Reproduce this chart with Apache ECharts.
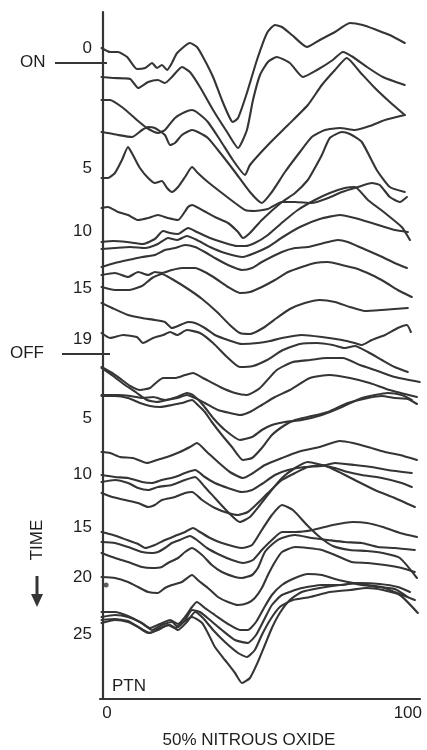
<!DOCTYPE html>
<html><head><meta charset="utf-8">
<script src="https://cdn.jsdelivr.net/npm/echarts@6/dist/echarts.min.js"></script>
<style>html,body{margin:0;padding:0;background:#fff}#c{width:427px;height:750px}</style>
</head><body><div id="c"></div>
<script>
// ---- data: each trace is [x (0..100 scale), vertical position (depth from top)] ----
const trace01=[[-0.5,48],[2.3,52],[4.9,52],[7.9,57],[11.1,69],[13.8,68],[16.1,63],[17.7,68],[19.3,65],[21,70],[22.6,63],[24.3,53],[28.5,43],[30.8,47],[32.8,57],[36.1,77],[39,100],[41.6,118],[42.6,122],[44.3,118],[47.2,93],[50.5,60],[53.8,33],[56.4,25],[58.7,27],[62,35],[66.9,47],[71.1,40],[76.1,32],[81,23],[85.2,25],[89.8,30],[94.1,35],[99,43]];
const trace02=[[-0.5,77],[3.3,78],[8.9,79],[11.5,88],[14.8,82],[18,80],[20.3,83],[22.6,77],[25.9,67],[28.5,72],[31.8,87],[36.1,110],[40.7,132],[44.3,148],[47.2,130],[49.2,100],[51.5,75],[54.1,62],[57,57],[61.3,63],[65.6,77],[70.2,70],[75.4,60],[78.7,52],[82,57],[86.6,67],[91.8,77],[99,85]];
const trace03=[[-0.5,100],[2.3,100],[6.6,108],[11.1,120],[14.4,128],[18,133],[20.3,130],[23.6,118],[26.9,112],[29.2,110],[31.1,113],[34.4,122],[38.4,140],[42.6,160],[46.6,175],[48.2,165],[54.1,145],[60.7,125],[67.2,105],[71.8,85],[76.1,70],[80,58],[84.3,72],[89.2,88],[94.1,102],[99,115]];
const trace04=[[-0.5,132],[1.6,133],[4.9,135],[9.5,137],[12.8,130],[14.8,127],[17,128],[20.3,135],[22,145],[23.6,143],[25.9,135],[29.2,130],[31.1,132],[34.4,138],[39,155],[43.3,172],[48.2,192],[52.1,203],[55.4,192],[59.7,172],[64.6,152],[68.5,137],[72.8,130],[77.7,128],[82.6,130],[87.5,126],[92.5,120],[99,115]];
const trace05=[[-0.5,178],[1.6,178],[3.9,173],[6.2,160],[8.2,147],[9.8,155],[12.1,168],[14.8,178],[17,183],[19.3,181],[21,188],[22.6,192],[24.6,187],[26.9,177],[29.2,167],[31.1,173],[34.4,182],[39,193],[43.3,203],[46.6,210],[49.8,211],[54.1,209],[58.7,202],[63,202],[68.5,203],[73.8,198],[78.4,192],[83.6,187],[88.2,183],[90.8,185],[94.1,197],[97.4,202],[99.7,197]];
const trace06=[[-0.5,208],[1.6,207],[4.9,212],[8.2,215],[11.5,220],[14.8,218],[18,215],[21.3,218],[24.6,220],[27.9,207],[29.2,205],[32.5,210],[36.7,217],[41,223],[44.3,232],[45.9,238],[48.2,233],[52.1,220],[58.7,202],[63,193],[67.2,180],[69.5,168],[71.8,155],[74.4,138],[78.4,132],[81,134],[84.9,142],[89.8,170],[94.1,187],[99,192]];
const trace07=[[-0.5,242],[3.3,241],[7.9,242],[13.1,244],[17,239],[19.7,231],[22,233],[24.6,234],[27.9,228],[30.8,232],[35.1,238],[40,243],[43.9,246],[46.6,246],[49.8,243],[54.1,235],[59,222],[63.9,210],[69.5,200],[74.4,193],[79.3,188],[82.6,187],[86.9,200],[92.5,213],[98,227],[100.7,240]];
const trace08=[[-0.5,249],[3.9,248],[8.9,247],[13.8,248],[18,244],[21.3,238],[24.3,240],[27.5,236],[30.8,240],[35.1,247],[40,253],[45.9,257],[49.8,253],[54.1,247],[59,237],[64.6,227],[71.1,219],[77.7,215],[82.6,218],[89.2,224],[95.7,230],[100,232]];
const trace09=[[-0.5,267],[3.9,263],[8.2,260],[12.8,257],[17,255],[20.3,250],[23.6,248],[26.9,245],[30.2,247],[33.4,252],[36.7,258],[41,265],[45.6,270],[48.9,268],[52.1,262],[58.7,252],[63,248],[67.2,247],[73.8,242],[77,240],[80.3,242],[84.9,248],[90.2,255],[95.7,263],[99.7,268]];
const trace10=[[-0.5,275],[3.9,273],[8.2,277],[11.5,272],[14.8,275],[17,272],[19.3,273],[22.6,270],[25.9,268],[30.2,268],[33.4,272],[36.7,278],[41,287],[44.9,293],[48.2,292],[52.1,287],[56.4,280],[60.7,272],[65.2,267],[69.5,263],[73.8,262],[78.4,265],[82.6,268],[88.2,275],[92.5,282],[96.7,290],[101.3,297]];
const trace11=[[-0.5,287],[3.9,290],[8.2,290],[12.8,286],[16.1,278],[19.3,274],[22.6,279],[27.9,289],[32.5,299],[37.4,312],[41.6,325],[44.9,333],[48.2,334],[52.5,328],[57,318],[61.3,309],[66.2,303],[71.1,300],[76.1,302],[81,307],[85.9,311],[91.5,310],[100,308]];
const trace12=[[-0.5,303],[3,308],[8.2,315],[12.8,318],[17,320],[20.3,322],[22.6,328],[24.6,326],[27.9,322],[30.2,323],[33.4,328],[36.7,335],[41,340],[45.6,344],[50.8,343],[54.8,341],[58.7,338],[65.2,335],[71.8,337],[78.4,340],[82.6,343],[84.9,345],[88.2,340],[92.5,335],[96.7,328],[99.7,325],[101,332]];
const trace13=[[-0.5,333],[2.3,338],[6.6,335],[11.1,337],[13.1,343],[16.4,338],[19.7,335],[22,332],[24.3,335],[27.5,330],[31.8,333],[36.1,343],[40.7,357],[44.9,367],[49.2,366],[53.8,360],[59,350],[64.6,344],[70.2,343],[75.4,345],[79.3,348],[82.6,346],[86.9,352],[91.5,360],[95.7,367],[100,372]];
const trace14=[[-0.5,367],[3,373],[6.2,380],[8.9,386],[12.1,390],[15.4,388],[17.7,382],[19.7,378],[23.6,378],[26.9,375],[29.5,373],[32.8,378],[38.4,387],[43.3,393],[47.2,395],[51.5,388],[57,370],[62.3,362],[67.9,360],[73.4,358],[78.7,358],[84.3,365],[89.2,370],[95.7,377],[103.9,382]];
const trace15=[[-0.5,368],[3.3,376],[7.2,385],[11.1,393],[14.4,400],[17.7,402],[21,400],[24.3,398],[27.5,395],[30.2,398],[33.4,403],[37.7,410],[41.6,413],[44.9,415],[48.2,412],[52.1,405],[56.4,397],[61.3,390],[67.9,378],[74.4,375],[81,378],[87.5,383],[94.1,390],[103,397]];
const trace16=[[-0.5,395],[4.9,395],[8.9,396],[13.1,398],[16.4,397],[20.3,400],[24.3,397],[27.5,393],[29.5,395],[32.8,405],[36.1,418],[40,430],[44.9,440],[48.9,437],[52.1,430],[55.4,425],[59.7,422],[65.2,420],[71.8,415],[78.4,407],[84.9,398],[89.2,395],[93.4,393],[98,395],[101.3,400]];
const trace17=[[-0.5,396],[3.9,396],[8.2,398],[12.1,403],[15.4,406],[18.7,407],[22.6,405],[25.9,403],[29.2,400],[31.1,405],[33.4,412],[35.7,422],[39,435],[42.3,447],[45.9,460],[48.9,458],[52.1,448],[55.4,435],[59.7,425],[63,420],[67.2,417],[73.8,412],[80.3,403],[86.9,398],[91.5,396],[95.7,398],[100,399],[103,404]];
const trace18=[[-0.5,452],[2.3,453],[5.6,457],[9.8,458],[14.4,463],[17.7,460],[21,457],[25.2,452],[28.5,447],[30.8,443],[34.1,452],[37.7,462],[41.6,472],[45.9,478],[49.2,473],[53.1,465],[58.7,458],[63.9,452],[71.1,447],[77.7,441],[82,443],[86.9,447],[92.5,452],[97.4,455],[103,460]];
const trace19=[[-0.5,475],[3.9,477],[8.2,478],[12.8,482],[16.1,483],[19.3,480],[23.6,477],[26.9,473],[30.2,470],[33.4,477],[36.7,483],[41,488],[45.6,492],[48.9,490],[52.1,484],[56.4,475],[60.7,470],[66.2,467],[71.8,466],[76.1,463],[82.6,465],[88.2,467],[93.4,470],[101.3,473]];
const trace20=[[-0.5,482],[3.9,480],[8.2,483],[11.5,488],[14.8,490],[18,487],[22.6,485],[26.9,480],[30.2,477],[33.4,487],[36.7,498],[41,512],[44.9,522],[48.2,517],[51.5,505],[54.8,492],[58.7,478],[63,468],[67.2,462],[71.8,465],[76.1,468],[80.3,472],[84.9,475],[91.5,478],[98,483],[101.3,487]];
const trace21=[[-0.5,493],[3,497],[7.2,500],[11.5,503],[14.8,507],[17,505],[19.3,500],[23.6,497],[26.9,493],[29.2,492],[32.5,500],[36.7,508],[41,513],[44.3,515],[47.5,512],[50.8,503],[54.1,493],[58.7,480],[63,473],[67.2,467],[71.8,465],[76.1,470],[82.6,480],[89.2,490],[95.7,498],[102.3,507]];
const trace22=[[-0.5,532],[3.3,535],[7.9,540],[11.5,544],[13.8,548],[17,545],[20.3,540],[23.6,536],[26.9,532],[29.5,528],[31.8,532],[35.1,538],[39,543],[45.6,548],[48.9,545],[52.1,530],[55.4,515],[58.7,505],[62.3,510],[66.9,525],[71.1,537],[75.4,546],[81,550],[86.6,551],[91.8,553],[97.4,558],[103,578]];
const trace23=[[-0.5,542],[3.9,543],[8.2,547],[12.8,552],[16.1,553],[18,552],[20.3,548],[22.6,543],[25.2,540],[28.5,536],[30.8,540],[34.1,548],[38.4,555],[42.3,560],[45.9,563],[49.2,560],[52.1,550],[55.4,540],[58.7,532],[63,532],[68.9,530],[75.4,525],[82,522],[86.6,523],[91.8,527],[97.4,533],[103,537]];
const trace24=[[-0.5,553],[3,557],[8.2,562],[12.8,567],[16.1,568],[19.3,567],[21.3,563],[24.6,558],[26.9,552],[29.2,548],[32.5,555],[35.7,565],[39,572],[43.3,577],[45.6,578],[48.9,575],[50.8,568],[53.1,552],[56.4,542],[58.7,538],[63,535],[68.5,538],[73.8,540],[79.3,542],[84.9,543],[90.2,547],[95.7,548],[102.3,550]];
const trace25=[[-0.5,577],[3.9,578],[8.2,582],[11.5,587],[14.8,592],[18,593],[20.3,588],[22.6,585],[25.9,582],[29.2,575],[31.1,580],[34.4,588],[37.7,597],[41,602],[44.3,605],[47.5,603],[49.8,598],[52.1,588],[54.1,575],[56.4,562],[58.7,552],[63,547],[67.2,548],[71.8,550],[76.1,555],[81.6,562],[86.9,563],[92.5,565],[98,568],[102.3,572]];
const trace26=[[-0.5,612],[3.9,612],[8.2,616],[12.1,622],[15.4,628],[18.7,624],[22,620],[24.6,624],[26.9,617],[29.2,607],[30.8,602],[33.4,608],[36.7,615],[41,624],[44.9,630],[47.5,630],[50.2,622],[52.8,608],[55.4,595],[58.7,585],[63,578],[67.2,574],[71.8,575],[76.1,579],[80.3,582],[84.9,585],[90.2,587],[95.7,589],[100,597]];
const trace27=[[-0.5,617],[3.9,615],[8.2,617],[12.8,623],[16.1,630],[19.3,625],[22.6,622],[24.6,627],[26.9,620],[29.2,610],[31.8,612],[35.1,620],[39,630],[43.3,640],[47.5,643],[50.2,635],[52.8,620],[55.4,605],[58.7,595],[65.2,588],[71.8,585],[78.4,585],[82.6,583],[86.9,585],[91.5,587],[95.7,592],[102.3,600]];
const trace28=[[-0.5,620],[3.9,619],[8.2,621],[12.1,628],[15.4,633],[18.7,628],[22,625],[24.6,630],[27.5,622],[30.2,612],[32.8,618],[36.1,630],[40,642],[44.3,653],[47.2,657],[49.8,650],[52.1,635],[54.8,620],[58,607],[62.3,600],[67.9,597],[74.4,592],[81,590],[86.6,588],[91.8,590],[97.4,595],[103.3,613]];
const trace29=[[-0.5,623],[3.9,620],[8.2,622],[11.5,627],[14.8,633],[18,630],[21.3,625],[23.6,628],[25.9,623],[29.2,617],[32.5,623],[34.4,633],[36.7,647],[40,660],[43.3,673],[45.6,683],[48.2,678],[50.8,662],[53.1,645],[55.4,628],[58,613],[61.3,600],[65.2,592],[71.1,588],[77.7,585],[84.3,583],[90.8,584],[96.7,587],[100.7,592]];
const dotMark=[[1.0,585]];

const timeLabels=['0','5','10','15','19','5','10','15','20','25'];
const timeLabelPos=[48,168,231,288,339,418,474,527,577,634];
const xTickValues=[0,100];

const traces=[trace01,trace02,trace03,trace04,trace05,trace06,trace07,trace08,trace09,trace10,trace11,trace12,trace13,trace14,trace15,trace16,trace17,trace18,trace19,trace20,trace21,trace22,trace23,trace24,trace25,trace26,trace27,trace28,trace29];

const INK='#353535';
const TXT='#1e1e1e';
const FONT='"Liberation Sans", Arial, sans-serif';

const chart=echarts.init(document.getElementById('c'),null,{renderer:'canvas'});
const series=traces.map((d,i)=>({
  type:'line',name:'t'+(i+1),data:d,showSymbol:false,smooth:0.18,
  lineStyle:{color:INK,width:2.1,join:'round',cap:'round'},
  emphasis:{disabled:true},silent:true,z:2
}));
series.push({type:'scatter',data:dotMark,symbolSize:5,itemStyle:{color:INK},silent:true});

chart.setOption({
  animation:false,
  backgroundColor:'#fff',
  grid:{left:100,top:12,width:320,height:687},
  xAxis:{type:'value',min:-1,max:104,
    axisLine:{show:true,lineStyle:{color:INK,width:2.2}},
    axisTick:{show:false},splitLine:{show:false},
    axisLabel:{customValues:xTickValues,margin:6,fontSize:17,color:TXT,fontFamily:FONT,
      formatter:v=>v===0?'{z|0}':String(v),
      rich:{z:{padding:[0,0,0,8],fontSize:17,color:TXT,fontFamily:FONT}}}
  },
  yAxis:{type:'value',inverse:true,min:12,max:699,
    axisLine:{show:true,lineStyle:{color:INK,width:2.2}},
    axisTick:{show:false},splitLine:{show:false},
    axisLabel:{customValues:timeLabelPos,margin:8,fontSize:17,color:TXT,fontFamily:FONT,
      formatter:v=>{const i=timeLabelPos.indexOf(v);return i>=0?timeLabels[i]:'';}}
  },
  series:series,
  graphic:[
    {type:'text',left:20,top:54,style:{text:'ON',fontSize:17,fill:TXT,fontFamily:FONT}},
    {type:'line',shape:{x1:55,y1:63,x2:107,y2:63},style:{stroke:INK,lineWidth:2}},
    {type:'text',left:10,top:345,style:{text:'OFF',fontSize:17,fill:TXT,fontFamily:FONT}},
    {type:'line',shape:{x1:62,y1:354,x2:110,y2:354},style:{stroke:INK,lineWidth:2}},
    {type:'text',x:37,y:540,rotation:Math.PI/2,style:{text:'TIME',fontSize:17,fill:TXT,fontFamily:FONT,align:'center',verticalAlign:'middle'}},
    {type:'line',shape:{x1:37,y1:576,x2:37,y2:598},style:{stroke:INK,lineWidth:3}},
    {type:'polygon',shape:{points:[[31,594],[43,594],[37,607]]},style:{fill:INK}},
    {type:'text',left:112,top:678,style:{text:'PTN',fontSize:17,fill:TXT,fontFamily:FONT}},
    {type:'text',x:249,y:740,style:{text:'50% NITROUS OXIDE',fontSize:17,fill:TXT,fontFamily:FONT,align:'center',verticalAlign:'middle'}}
  ]
});
</script></body></html>
